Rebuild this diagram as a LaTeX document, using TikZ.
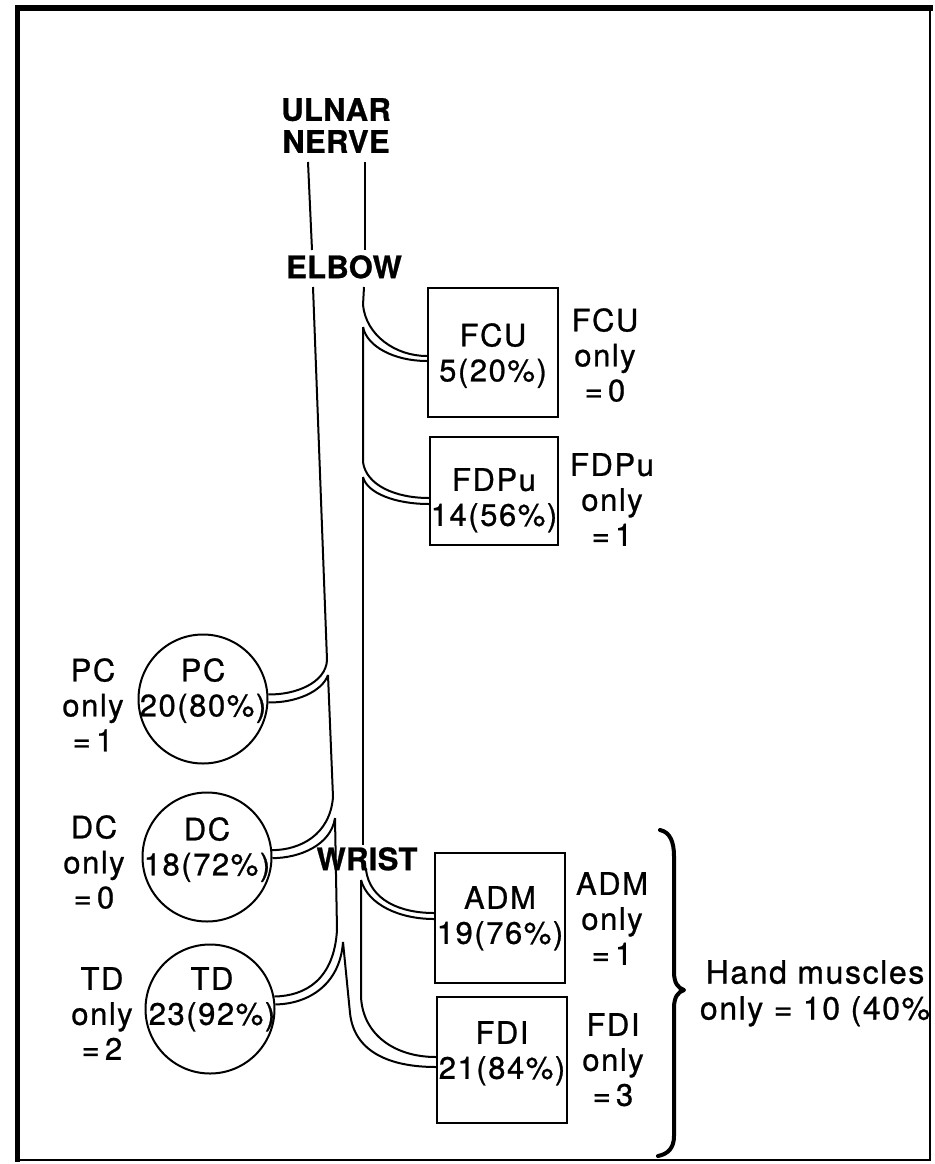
\documentclass[tikz,border=0pt]{standalone}
\usepackage{fontspec}
\setmainfont{TeX Gyre Heros}[LetterSpace=5,FakeBold=0.8]
\newfontfamily\headfam{TeX Gyre Heros}[LetterSpace=1,BoldFeatures={FakeBold=0.8}]
\begin{document}
\begin{tikzpicture}[x=1pt,y=-1pt,
  nerve/.style={line width=2pt},
  musclebox/.style={draw,line width=2.2pt,rectangle,inner sep=0pt},
  musclecirc/.style={draw,line width=2pt,circle,inner sep=0pt,minimum size=129pt},
  txt/.style={inner sep=0pt,anchor=north,align=center,font=\fontsize{31}{35}\selectfont},
  head/.style={inner sep=0pt,anchor=north,align=center,font=\headfam\bfseries\fontsize{31}{32}\selectfont},
  bracestyle/.style={line width=4pt,line cap=round,line join=round}]
\useasboundingbox (0,0) rectangle (934,1164);
\fill[white] (0,0) rectangle (934,1164);
% frame
\fill (15,5) rectangle (933,11);
\fill (15,5) rectangle (20,1162);
\draw[line width=2pt] (930,8) -- (930,1160) -- (17,1160);
% headings
\node[head] (ulnar) at (336,98) {ULNAR\\NERVE};
\node[head] (elbow) at (344,255) {ELBOW};
\node[head] (wrist) at (367,847) {WRIST};
% muscles
\node[musclebox,minimum width=130pt,minimum height=129pt] (fcu) at (493,352.5) {};
\node[musclebox,minimum width=128pt,minimum height=108pt] (fdpu) at (494,491) {};
\node[musclebox,minimum width=130pt,minimum height=130pt] (adm) at (500,918) {};
\node[musclebox,minimum width=130pt,minimum height=126pt] (fdi) at (502,1060) {};
\node[musclecirc] (pc) at (203,699) {};
\node[musclecirc] (dc) at (207,857) {};
\node[musclecirc] (td) at (210,1009) {};
% texts inside
\node[txt] (fcut) at (493,323) {FCU\\5(20\%)};
\node[txt] (fdput) at (494,468) {FDPu\\14(56\%)};
\node[txt] (admt) at (500,886) {ADM\\19(76\%)};
\node[txt] (fdit) at (502,1021) {FDI\\21(84\%)};
\node[txt] (pct) at (203,658) {PC\\20(80\%)};
\node[txt] (dct) at (207,817) {DC\\18(72\%)};
\node[txt] (tdt) at (212,967) {TD\\23(92\%)};
% side labels
\node[txt] (fcul) at (605,308) {FCU\\only\\=\,0};
\node[txt] (fdpul) at (612,453) {FDPu\\only\\=\,1};
\node[txt] (adml) at (612,872) {ADM\\only\\=\,1};
\node[txt] (fdil) at (613,1013) {FDI\\only\\=\,3};
\node[txt] (pcl) at (93,658) {PC\\only\\=\,1};
\node[txt] (dcl) at (94,815) {DC\\only\\=\,0};
\node[txt] (tdl) at (102,967) {TD\\only\\=\,2};
\node[txt,font=\fontsize{32}{36}\selectfont] (hand) at (815,960) {Hand muscles\\only = 10 (40\%};
% nerve trunk above elbow
\draw[nerve] (308,162) -- (312,250);
\draw[nerve] (365,162) -- (365,250);
% right side of trunk with branches
\draw[nerve] (364,287) -- (363,305) .. controls (366,335) and (395,356) .. (fcu.west |- 0,356);
\draw[nerve] (363,327) .. controls (367,347) and (395,361) .. (fcu.west |- 0,361);
\draw[nerve] (363,327) -- (363,462) .. controls (366,485) and (395,498) .. (fdpu.west |- 0,498);
\draw[nerve] (363,477) .. controls (367,493) and (395,504) .. (fdpu.west |- 0,504);
\draw[nerve] (363,477) -- (363,845);
% left side of trunk with branches
\draw[nerve] (313,287) -- (327,660) .. controls (326,683) and (295,695) .. (pc.4);
\draw[nerve] (328,675) .. controls (322,692) and (295,703) .. (pc.-3);
\draw[nerve] (328,675) -- (333,797) .. controls (330,835) and (300,850) .. (dc.6);
\draw[nerve] (335,818) .. controls (331,845) and (300,858) .. (dc.-1);
\draw[nerve] (335,818) -- (337,930) .. controls (334,980) and (305,996) .. (td.11);
\draw[nerve] (343,942) .. controls (340,985) and (308,1004) .. (td.4);
\draw[nerve] (343,942) -- (350,1013) .. controls (354,1052) and (390,1067) .. (fdi.west |- 0,1067);
% wrist branches
\draw[nerve] (366,870) .. controls (370,900) and (400,913) .. (adm.west |- 0,913);
\draw[nerve] (361,880) .. controls (368,905) and (400,919) .. (adm.west |- 0,919);
\draw[nerve] (361,880) -- (361,997) .. controls (363,1035) and (395,1057) .. (fdi.west |- 0,1057);
% brace
\draw[bracestyle] (660,830) .. controls (670,832) and (674,842) .. (674,856) -- (674,972) .. controls (674,983) and (678,988) .. (684,990) .. controls (678,992) and (674,997) .. (674,1008) -- (674,1136) .. controls (674,1148) and (668,1154) .. (658,1156);
\end{tikzpicture}
\end{document}
